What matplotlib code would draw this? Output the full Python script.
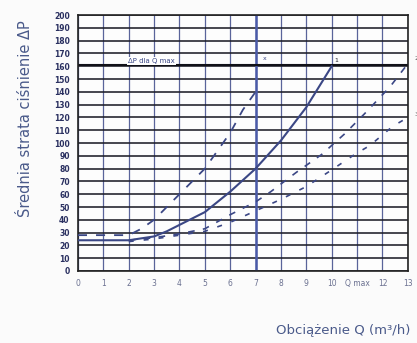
import numpy as np
import matplotlib.pyplot as plt

# curve 1 (solid)
q1 = [0, 2, 3, 3.5, 4, 5, 6, 7, 8, 9, 10]
p1 = [24, 24, 27, 31, 36, 46, 62, 80, 102, 128, 160]
# curve 2 (dashed, ends at Q=13)
q2 = [2, 3, 4, 5, 6, 7, 7.6, 8.6, 9.6, 10.5, 11.3, 12.3, 13]
p2 = [24, 26, 29, 33, 44, 54, 62, 77, 91, 107, 123, 144, 162]
# curve 3 (dashed, lower)
q3 = [2, 3, 4, 5, 6, 7, 8, 9, 10, 10.9, 11.5, 12.4, 13]
p3 = [23, 25, 28, 31, 38, 47, 56, 66, 79, 91, 98, 113, 120]
# curve 4 (dashed, steep)
q4 = [0, 2, 2.5, 3, 4, 5, 5.5, 6, 6.5, 7]
p4 = [28, 28, 33, 40, 60, 80, 94, 108, 126, 140]

dp_max = 161
xticks = list(range(14))
xlabels = ['0', '1', '2', '3', '4', '5', '6', '7', '8', '9', '10', 'Q max', '12', '13']
yticks = list(range(0, 201, 10))

ink = '#3b4785'
grid_c = '#1e1e28'

fig = plt.figure(figsize=(4.17, 3.43), dpi=100)
fig.patch.set_facecolor('#fbfbfb')
ax = fig.add_axes([0.187, 0.21, 0.791, 0.746])
ax.set_facecolor('#fdfdfd')

ax.set_xlim(0, 13)
ax.set_ylim(0, 200)
for x in xticks:
    ax.axvline(x, color='#5a649a', lw=0.9, zorder=1)
for y in yticks:
    ax.axhline(y, color=grid_c, lw=1.15, zorder=1)
ax.axvline(7, color='#4a5aa8', lw=1.8, zorder=1)
ax.axhline(dp_max, color='#111118', lw=1.5, zorder=2)

ax.plot(q1, p1, color=ink, lw=1.5, zorder=3)
ax.plot(q2, p2, color=ink, lw=1.2, ls=(0, (4, 5)), zorder=3)
ax.plot(q3, p3, color=ink, lw=1.2, ls=(0, (3, 6)), zorder=3)
ax.plot(q4, p4, color=ink, lw=1.3, ls=(0, (5, 5)), zorder=3)

ax.text(2.9, dp_max + 3, 'ΔP dla Q max', fontsize=5, color=ink,
        ha='center', va='center', zorder=4,
        bbox=dict(facecolor='white', edgecolor='none', pad=0.6))
ax.text(10.1, 163, '1', fontsize=4.5, color=grid_c, zorder=4)
ax.text(7.3, 165, 'x', fontsize=4.5, color=ink, zorder=4)
ax.text(13.25, 165, '2', fontsize=4.5, color='#555', clip_on=False)
ax.text(13.25, 121, '3', fontsize=4.5, color='#555', clip_on=False)

ax.set_xticks(xticks)
ax.set_xticklabels(xlabels, fontsize=5.5, color='#6a7090')
ax.set_yticks(yticks)
ax.set_yticklabels([str(v) for v in yticks], fontsize=5.5, color='#2a3060',
                   fontweight='bold')
ax.tick_params(length=0, pad=6)
for s in ax.spines.values():
    s.set_color('#222')
    s.set_linewidth(1.2)

fig.text(0.06, 0.655, 'Średnia strata ciśnienie ΔP', rotation=90,
         fontsize=10.5, color='#4a5a8a', ha='center', va='center')
fig.text(0.985, 0.035, 'Obciążenie Q (m³/h)', fontsize=9.5, color='#4a5a8a',
         ha='right', va='center')

fig.savefig('out.png', dpi=100, facecolor=fig.get_facecolor())
